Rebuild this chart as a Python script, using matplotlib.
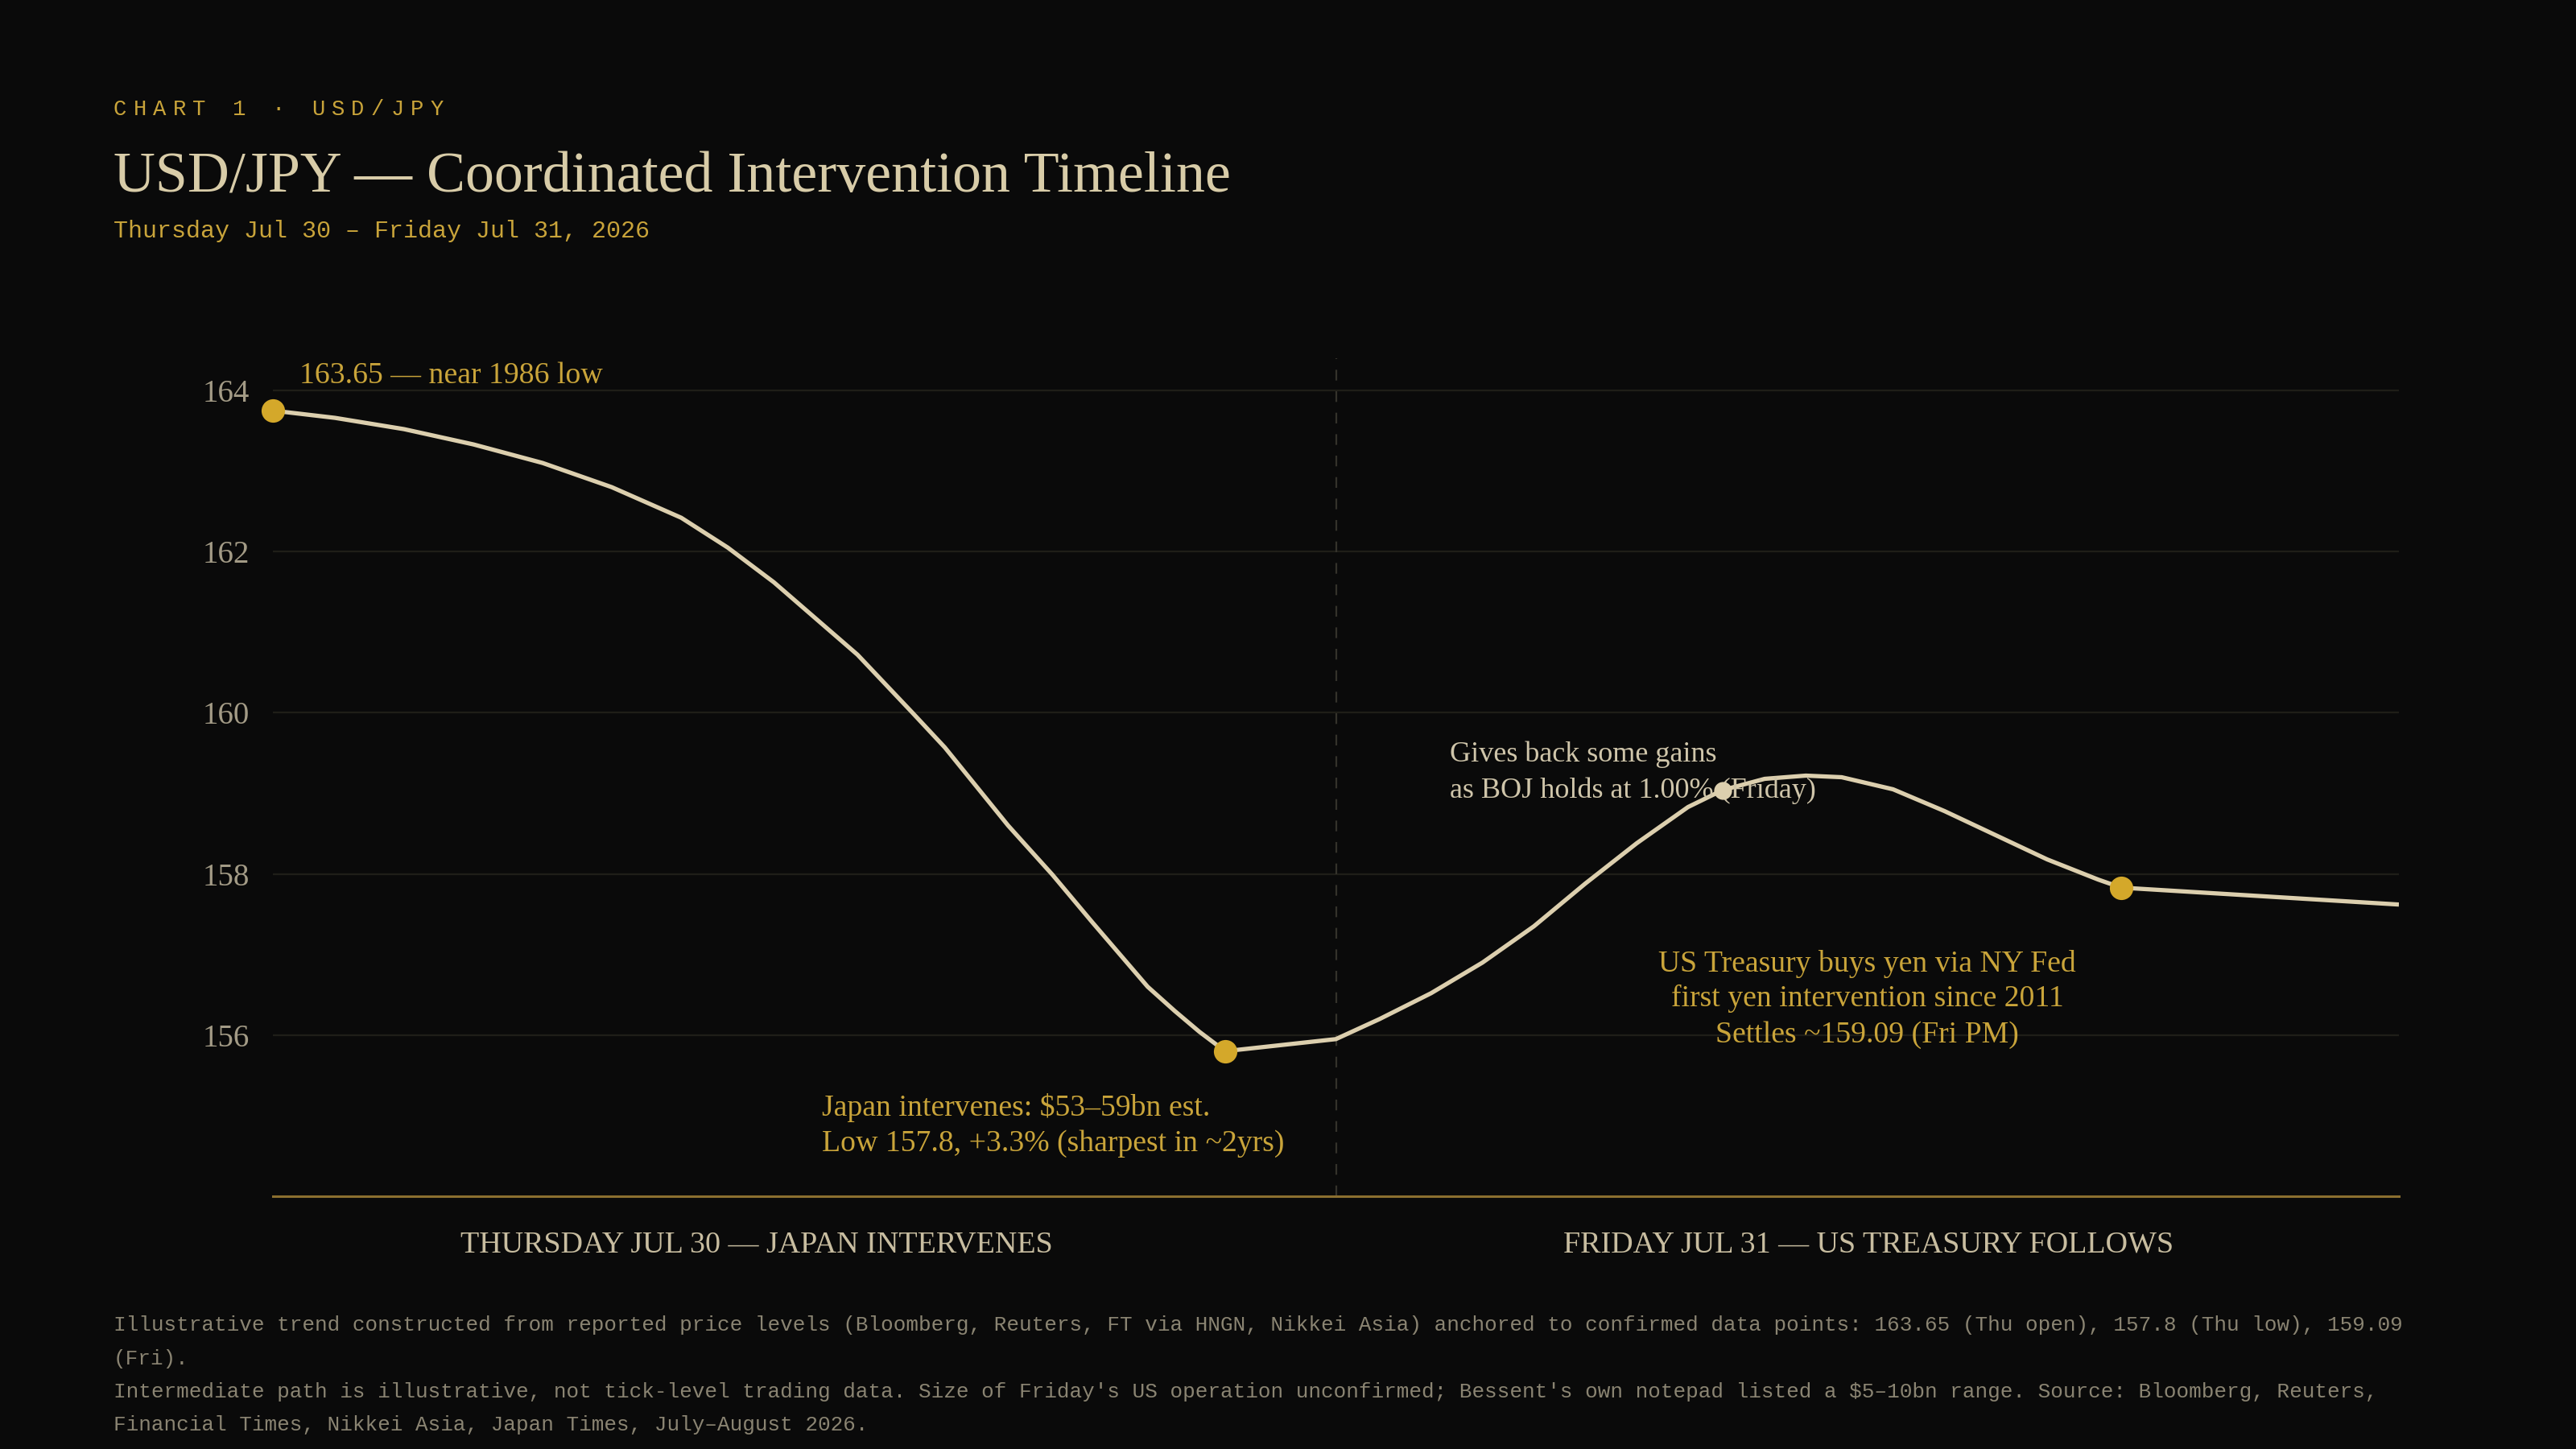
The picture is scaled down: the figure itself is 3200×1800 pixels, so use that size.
import matplotlib.pyplot as plt

# colours
BG = "#0a0a0a"
CREAM = "#dccfae"
GOLD = "#d4a82a"
GOLD_TXT = "#c9a43a"
GRID = "#1f1e18"
AXIS = "#8b6f2f"
TICK = "#a39b86"
NOTE = "#8a8472"

SERIF = ["Liberation Serif", "DejaVu Serif"]
MONO = ["Liberation Mono", "DejaVu Sans Mono"]

# price path (hours since Thu open)
hours = [0, 1.4, 2.96, 4.53, 6.09, 7.65, 9.22, 10.27, 11.31, 12.36, 13.2, 14.44,
         15.17, 16.6, 17.6, 18.5, 19.75, 20.36, 20.92, 21.5, 24.0, 24.99, 26.15,
         27.31, 28.47, 29.63, 30.79, 31.95, 32.73, 33.68, 34.61, 35.42, 36.58,
         37.74, 38.9, 40.06, 41.21, 41.73, 48.0]
prices = [163.75, 163.66, 163.52, 163.33, 163.10, 162.80, 162.42, 162.05, 161.62,
          161.12, 160.72, 160.0, 159.57, 158.6, 157.99, 157.4, 156.6, 156.30,
          156.04, 155.8, 155.95, 156.2, 156.52, 156.9, 157.35, 157.88, 158.38,
          158.83, 159.04, 159.18, 159.22, 159.20, 159.05, 158.78, 158.48, 158.18,
          157.93, 157.83, 157.62]

# highlighted points
key_hours = [0, 21.5, 41.73]
key_prices = [163.75, 155.8, 157.83]
boj_hours = [32.73]
boj_prices = [159.04]

y_ticks = [156, 158, 160, 162, 164]
day_split = 24.0

day_labels = ["THURSDAY JUL 30 \u2014 JAPAN INTERVENES", "FRIDAY JUL 31 \u2014 US TREASURY FOLLOWS"]
day_label_pos = [0.2276, 0.7504]

footer_lines = [
    "Illustrative trend constructed from reported price levels (Bloomberg, Reuters, FT via HNGN, "
    "Nikkei Asia) anchored to confirmed data points: 163.65 (Thu open), 157.8 (Thu low), 159.09",
    "(Fri).",
    "Intermediate path is illustrative, not tick-level trading data. Size of Friday's US operation "
    "unconfirmed; Bessent's own notepad listed a $5\u201310bn range. Source: Bloomberg, Reuters,",
    "Financial Times, Nikkei Asia, Japan Times, July\u2013August 2026.",
]

W, H = 3200, 1800
fig = plt.figure(figsize=(16, 9), dpi=200, facecolor=BG)


def fx(px):
    return px / W


def fy(py):
    return 1 - py / H


# header
kicker = "CHART 1 \u00b7 USD/JPY"
for i, ch in enumerate(kicker):
    fig.text(fx(141 + i * 24.6), fy(143), ch, color=GOLD_TXT, fontsize=9.8,
             family=MONO, va="baseline", ha="left")

fig.text(fx(141), fy(238), "USD/JPY \u2014 Coordinated Intervention Timeline",
         color="#d8cca8", fontsize=25.9, family=SERIF, va="baseline")
fig.text(fx(141), fy(295), "Thursday Jul 30 \u2013 Friday Jul 31, 2026",
         color=GOLD_TXT, fontsize=10.8, family=MONO, va="baseline")

# plot area
ax = fig.add_axes([fx(339), fy(1486), (2980 - 339) / W, (1486 - 445) / H])
ax.set_facecolor(BG)
ax.set_xlim(0, 48)
ax.set_ylim(154, 164.4)

for yv in y_ticks:
    ax.axhline(yv, color=GRID, lw=0.8, zorder=1)
ax.axvline(day_split, color="#34322b", lw=0.8, ls=(0, (6, 6)), zorder=1)

ax.plot(hours, prices, color=CREAM, lw=1.9, solid_joinstyle="round",
        solid_capstyle="butt", zorder=3)
ax.plot(key_hours, key_prices, "o", color=GOLD, ms=10.5, mec="none",
        zorder=5, clip_on=False)
ax.plot(boj_hours, boj_prices, "o", color=CREAM, ms=8, mec="none", zorder=5)

for side in ["top", "right", "left"]:
    ax.spines[side].set_visible(False)
ax.spines["bottom"].set_color(AXIS)
ax.spines["bottom"].set_linewidth(1.1)
ax.set_xticks([])
ax.set_yticks(y_ticks)
ax.set_yticklabels([str(v) for v in y_ticks], family=SERIF, fontsize=14, color=TICK)
ax.tick_params(axis="y", length=0, pad=10.5)

# annotations
ANN = 13.6
ax.text(0.6, 164.09, "163.65 \u2014 near 1986 low", color=GOLD_TXT, fontsize=ANN,
        family=SERIF, va="baseline", zorder=4)
ax.text(12.4, 155.0, "Japan intervenes: $53\u201359bn est.", color=GOLD_TXT,
        fontsize=ANN, family=SERIF, va="baseline", zorder=4)
ax.text(12.4, 154.56, "Low 157.8, +3.3% (sharpest in ~2yrs)", color=GOLD_TXT,
        fontsize=ANN, family=SERIF, va="baseline", zorder=4)
ax.text(26.57, 159.39, "Gives back some gains", color="#cfc5aa",
        fontsize=13.0, family=SERIF, va="baseline", zorder=4)
ax.text(26.57, 158.95, "as BOJ holds at 1.00% (Friday)", color="#cfc5aa",
        fontsize=13.0, family=SERIF, va="baseline", zorder=4)
for yv, line in zip([156.79, 156.36, 155.91],
                    ["US Treasury buys yen via NY Fed",
                     "first yen intervention since 2011",
                     "Settles ~159.09 (Fri PM)"]):
    ax.text(36.0, yv, line, color=GOLD_TXT, fontsize=ANN, family=SERIF,
            va="baseline", ha="center", zorder=4)

# day labels under the axis
for xf, lab in zip(day_label_pos, day_labels):
    fig.text(fx(339 + xf * 2641), fy(1555), lab, color="#c8bda0", fontsize=13.7,
             family=SERIF, va="baseline", ha="center")

# footnote
for i, line in enumerate(footer_lines):
    fig.text(fx(141), fy(1653 + i * 41.5), line, color=NOTE, fontsize=9.36,
             family=MONO, va="baseline")

fig.savefig("out.png", dpi=200, facecolor=BG)
